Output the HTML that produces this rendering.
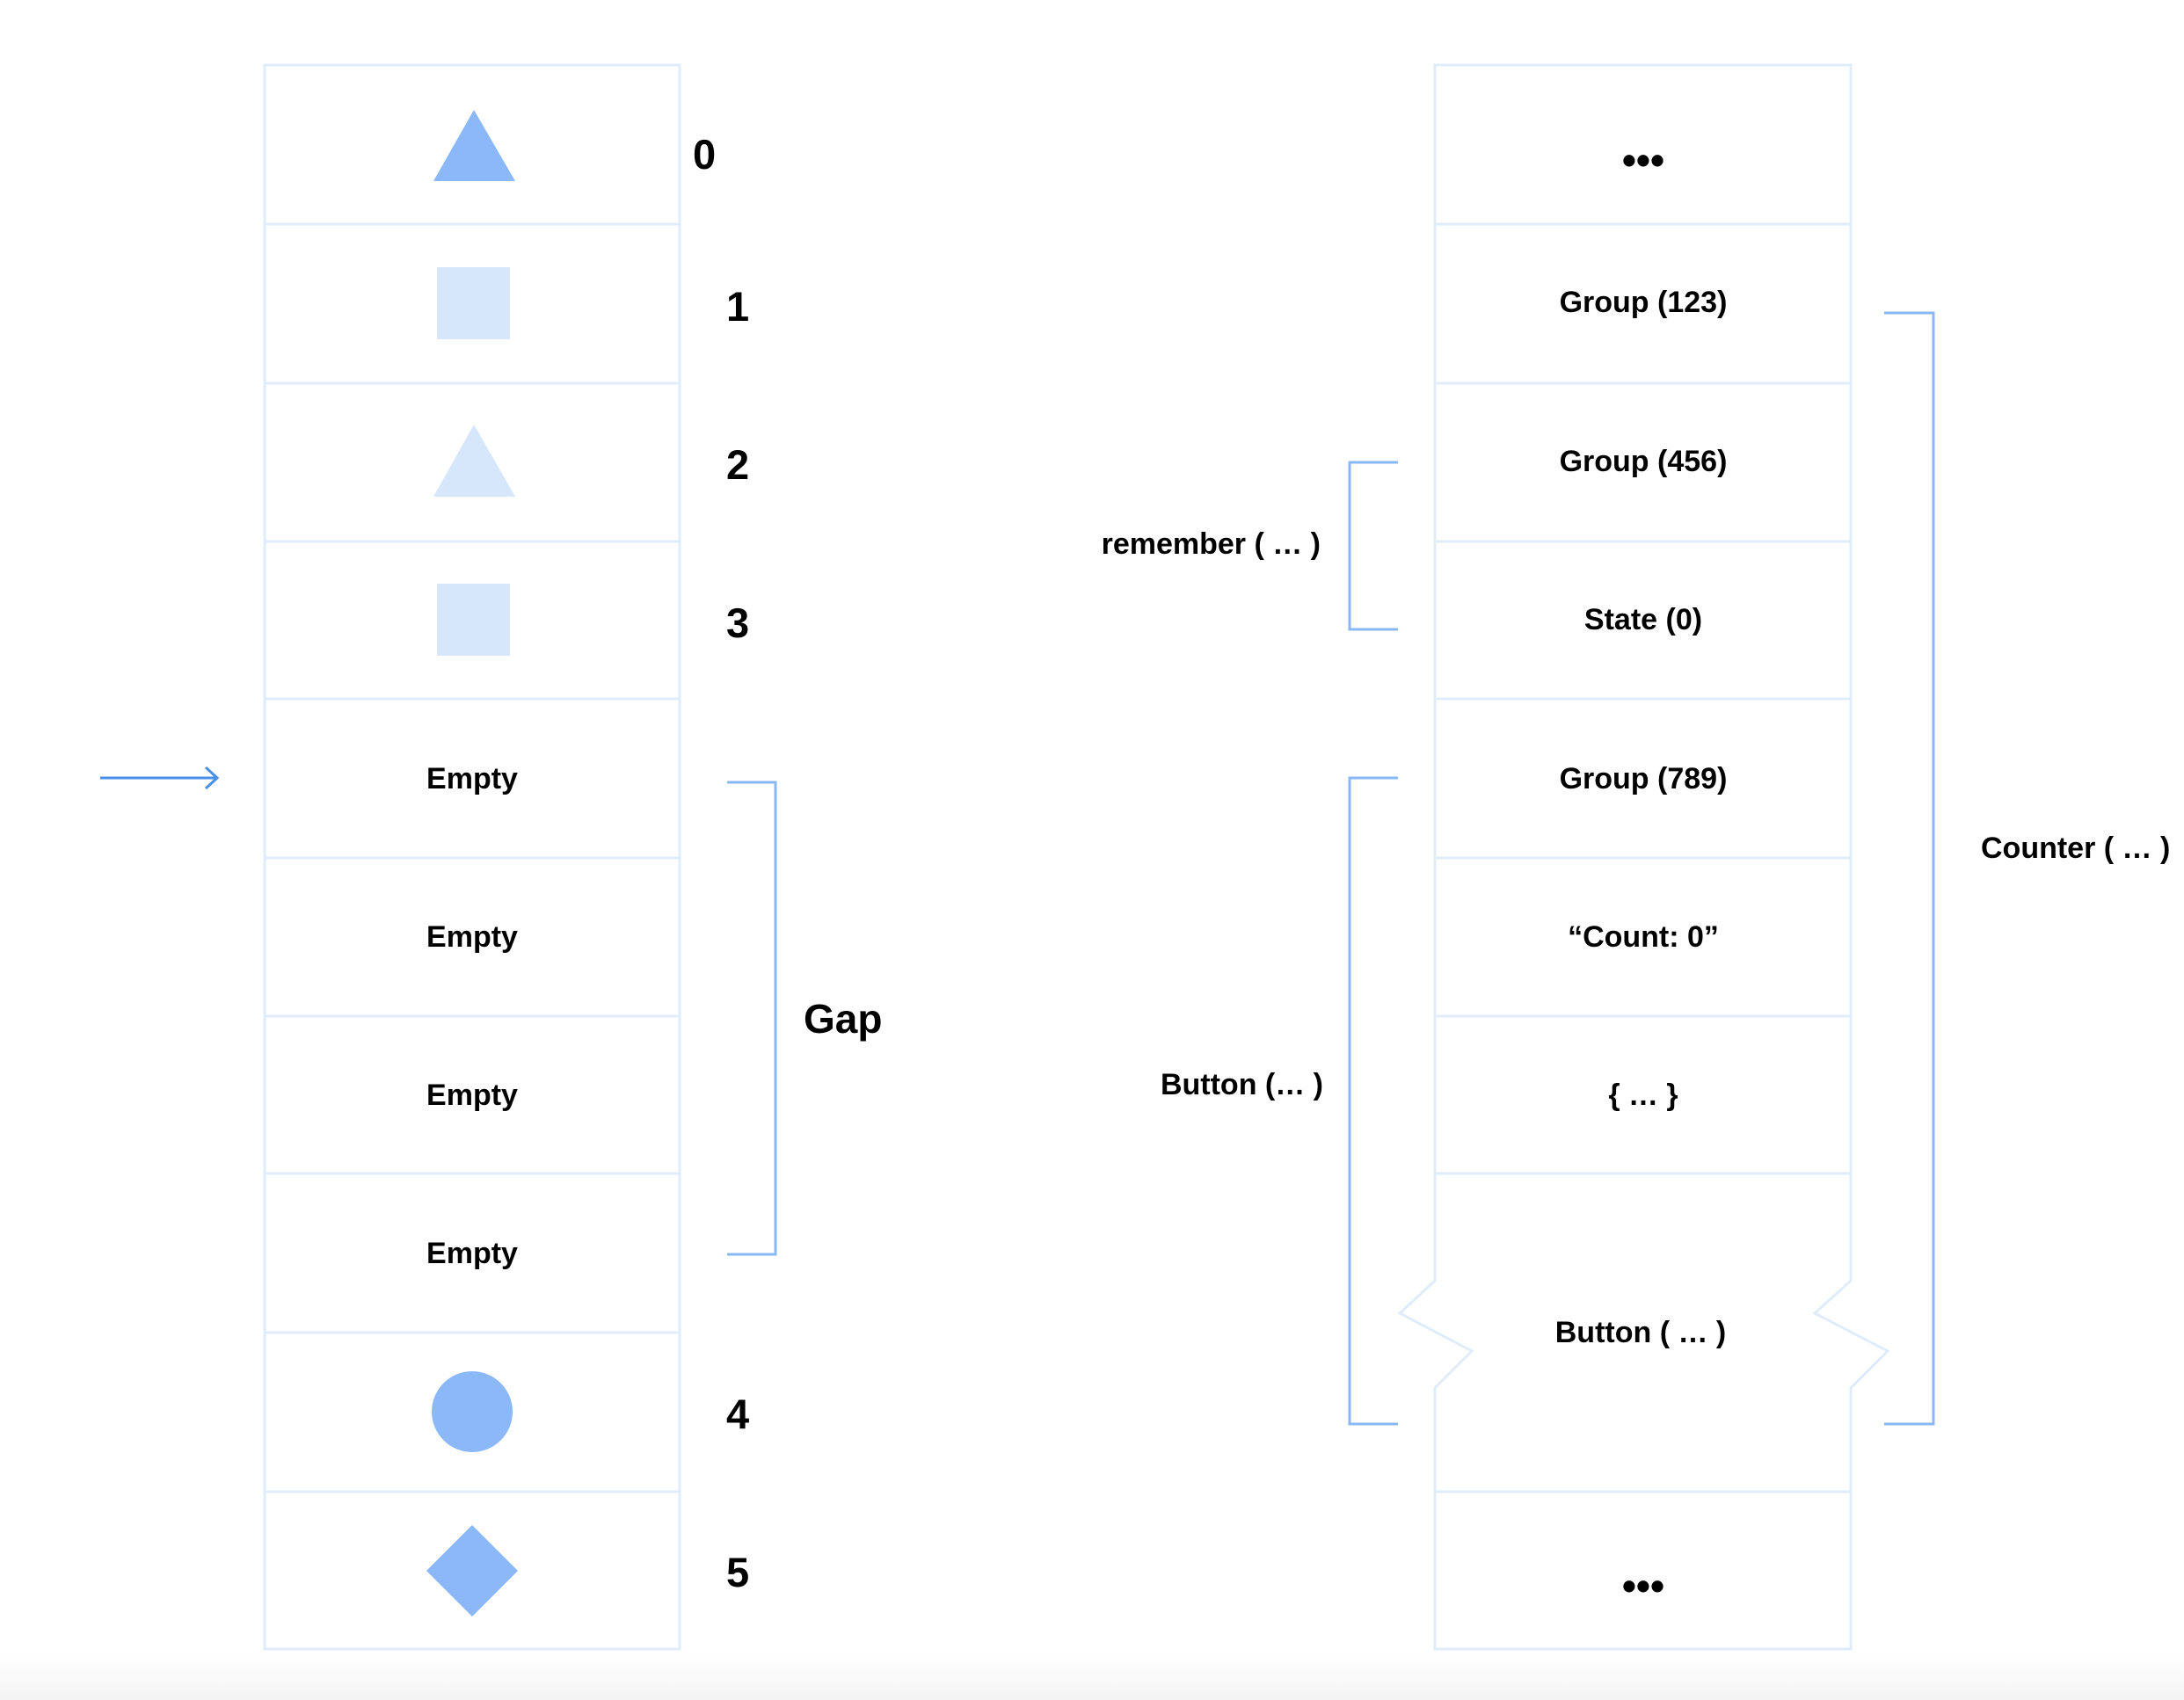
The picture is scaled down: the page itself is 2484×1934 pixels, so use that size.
<!DOCTYPE html>
<html><head><meta charset="utf-8"><style>
html,body{margin:0;padding:0;background:#fff;}
svg{display:block;}
text{font-family:"Liberation Sans",sans-serif;font-weight:bold;fill:#000;}
</style></head><body>
<svg width="2484" height="1934" viewBox="0 0 2484 1934" xmlns="http://www.w3.org/2000/svg">
<defs><linearGradient id="bg" x1="0" y1="0" x2="0" y2="1"><stop offset="0" stop-color="#fff"/><stop offset="1" stop-color="#f4f4f4"/></linearGradient></defs>
<rect x="0" y="1880" width="2484" height="54" fill="url(#bg)"/>
<g fill="none" stroke="#e1ecfb" stroke-width="3">
<rect x="301" y="74" width="472" height="1802" fill="#fff"/>
<line x1="301" y1="255" x2="773" y2="255"/><line x1="301" y1="436" x2="773" y2="436"/>
<line x1="301" y1="616" x2="773" y2="616"/><line x1="301" y1="795" x2="773" y2="795"/>
<line x1="301" y1="976" x2="773" y2="976"/><line x1="301" y1="1156" x2="773" y2="1156"/>
<line x1="301" y1="1335" x2="773" y2="1335"/><line x1="301" y1="1516" x2="773" y2="1516"/>
<line x1="301" y1="1697" x2="773" y2="1697"/>
<path d="M1632 74 H2105 V1457 L2064 1494 L2147 1537 L2105 1579 V1876 H1632 V1579 L1674 1537 L1592 1494 L1632 1457 Z" fill="#fff"/>
<line x1="1632" y1="255" x2="2105" y2="255"/><line x1="1632" y1="436" x2="2105" y2="436"/>
<line x1="1632" y1="616" x2="2105" y2="616"/><line x1="1632" y1="795" x2="2105" y2="795"/>
<line x1="1632" y1="976" x2="2105" y2="976"/><line x1="1632" y1="1156" x2="2105" y2="1156"/>
<line x1="1632" y1="1335" x2="2105" y2="1335"/><line x1="1632" y1="1697" x2="2105" y2="1697"/>
</g>
<polygon points="539,125 493,206 586,206" fill="#8ab8f8"/>
<rect x="497" y="304" width="83" height="82" fill="#d6e6fb"/>
<polygon points="539,483 493,565 586,565" fill="#d6e6fb"/>
<rect x="497" y="664" width="83" height="82" fill="#d6e6fb"/>
<circle cx="537" cy="1606" r="46" fill="#8ab8f8"/>
<polygon points="537,1735 589,1787 537,1839 485,1787" fill="#8ab8f8"/>
<g stroke="#4a8fe8" stroke-width="3" fill="none">
<line x1="114" y1="885" x2="247" y2="885"/><polyline points="234,873 247,885 234,897"/>
</g>
<g stroke="#8ab8f5" stroke-width="3" fill="none">
<polyline points="827,890 882,890 882,1427 827,1427"/>
<polyline points="1590,526 1535,526 1535,716 1590,716"/>
<polyline points="1590,885 1535,885 1535,1620 1590,1620"/>
<polyline points="2143,356 2199,356 2199,1620 2143,1620"/>
</g>
<g font-size="47">
<text x="788" y="192">0</text><text x="826" y="365">1</text><text x="826" y="545">2</text>
<text x="826" y="725">3</text><text x="826" y="1625">4</text><text x="826" y="1805">5</text>
</g>
<text x="914" y="1175" font-size="46">Gap</text>
<g font-size="34" text-anchor="middle">
<text x="537" y="897">Empty</text><text x="537" y="1077">Empty</text>
<text x="537" y="1257">Empty</text><text x="537" y="1437">Empty</text>
<text x="1869" y="355">Group (123)</text><text x="1869" y="536">Group (456)</text>
<text x="1869" y="716">State (0)</text><text x="1869" y="897">Group (789)</text>
<text x="1869" y="1077">“Count: 0”</text><text x="1869" y="1257">{  …  }</text>
<text x="1866" y="1527">Button ( … )</text>
<text x="1869" y="198" font-size="46">•••</text><text x="1869" y="1820" font-size="46">•••</text>
</g>
<g font-size="34" text-anchor="end">
<text x="1502" y="630">remember ( … )</text>
<text x="1505" y="1245">Button (… )</text>
</g>
<text x="2253" y="976" font-size="34">Counter ( … )</text>
</svg>
</body></html>
